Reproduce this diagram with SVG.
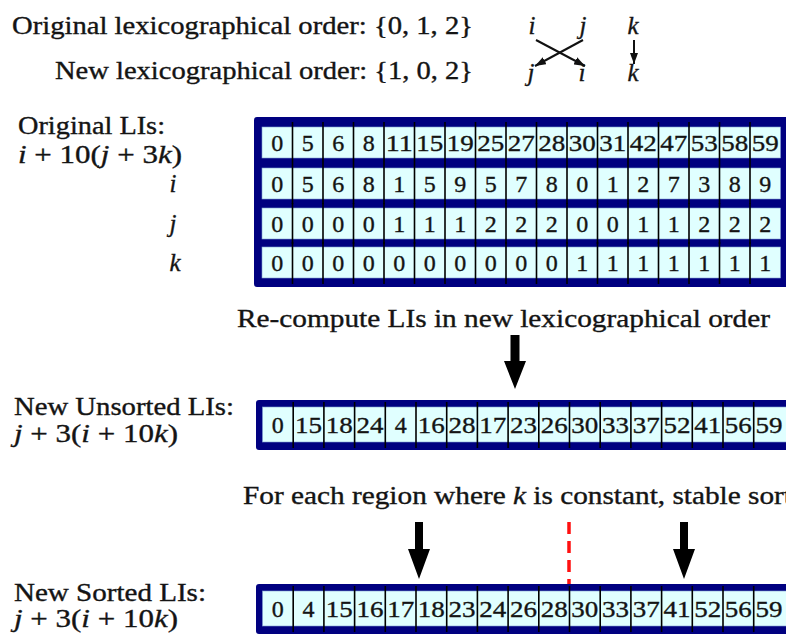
<svg xmlns="http://www.w3.org/2000/svg" width="786" height="634" viewBox="0 0 786 634">
<style>
text{font-family:"Liberation Serif","DejaVu Serif",serif;fill:#141414;stroke:#141414;stroke-width:0.35}
.lb{font-size:25px}
.it{font-style:italic}
.n{font-size:24px;text-anchor:middle}
.n2{font-size:24px;text-anchor:middle}
.outer{fill:#000080}
.cell{fill:#e0ffff;stroke:#7f9fd0;stroke-width:0.6}
.div{stroke:#000;stroke-width:1.6;fill:none}
.thin{stroke:#111;stroke-width:2;fill:none}
.big{fill:#000}
.mid{text-anchor:middle}
</style>
<defs>
<marker id="ah" markerUnits="userSpaceOnUse" markerWidth="11" markerHeight="8" refX="11" refY="4" orient="auto"><path d="M0,0 L11,4 L0,8 z" fill="#111"/></marker>
</defs>

<g id="orders">
<text class="lb" x="12" y="34" textLength="461" lengthAdjust="spacingAndGlyphs">Original lexicographical order: {0, 1, 2}</text>
<text class="lb" x="55" y="79" textLength="418" lengthAdjust="spacingAndGlyphs">New lexicographical order: {1, 0, 2}</text>
</g>
<g id="swap-letters">
<text class="lb it mid" x="532" y="34">i</text>
<text class="lb it mid" x="583" y="34">j</text>
<text class="lb it mid" x="633" y="34">k</text>
<text class="lb it mid" x="531" y="81">j</text>
<text class="lb it mid" x="582" y="81">i</text>
<text class="lb it mid" x="633" y="81">k</text>
</g>

<g id="label-original">
<text class="lb" x="18" y="134" textLength="147" lengthAdjust="spacingAndGlyphs">Original LIs:</text>
<text class="lb" x="18" y="163" textLength="164" lengthAdjust="spacingAndGlyphs"><tspan class="it">i</tspan> + 10(<tspan class="it">j</tspan> + 3<tspan class="it">k</tspan>)</text>
<text class="lb it mid" x="173" y="192">i</text>
<text class="lb it mid" x="173" y="232">j</text>
<text class="lb it mid" x="175" y="271">k</text>
</g>

<g id="table-original">
<rect class="outer" x="254" y="117" width="540" height="170" rx="3"/>
<rect class="cell" x="262" y="127" width="518.5" height="31"/>
<rect class="cell" x="262" y="168" width="518.5" height="31"/>
<rect class="cell" x="262" y="208" width="518.5" height="31"/>
<rect class="cell" x="262" y="247" width="518.5" height="31"/>
<path class="div" d="M292.5,122v41M323,122v41M353.5,122v41M384,122v41M414.5,122v41M445,122v41M475.5,122v41M506,122v41M536.5,122v41M567,122v41M597.5,122v41M628,122v41M658.5,122v41M689,122v41M719.5,122v41M750,122v41"/>
<path class="div" d="M292.5,163v41M323,163v41M353.5,163v41M384,163v41M414.5,163v41M445,163v41M475.5,163v41M506,163v41M536.5,163v41M567,163v41M597.5,163v41M628,163v41M658.5,163v41M689,163v41M719.5,163v41M750,163v41"/>
<path class="div" d="M292.5,203v41M323,203v41M353.5,203v41M384,203v41M414.5,203v41M445,203v41M475.5,203v41M506,203v41M536.5,203v41M567,203v41M597.5,203v41M628,203v41M658.5,203v41M689,203v41M719.5,203v41M750,203v41"/>
<path class="div" d="M292.5,242v42M323,242v42M353.5,242v42M384,242v42M414.5,242v42M445,242v42M475.5,242v42M506,242v42M536.5,242v42M567,242v42M597.5,242v42M628,242v42M658.5,242v42M689,242v42M719.5,242v42M750,242v42"/>
<g class="row">
<text class="n" x="277.25" y="151">0</text><text class="n" x="307.75" y="151">5</text><text class="n" x="338.25" y="151">6</text><text class="n" x="368.75" y="151">8</text>
<text class="n2" x="399.25" y="151" textLength="27" lengthAdjust="spacingAndGlyphs">11</text><text class="n2" x="429.75" y="151" textLength="27" lengthAdjust="spacingAndGlyphs">15</text><text class="n2" x="460.25" y="151" textLength="27" lengthAdjust="spacingAndGlyphs">19</text><text class="n2" x="490.75" y="151" textLength="27" lengthAdjust="spacingAndGlyphs">25</text>
<text class="n2" x="521.25" y="151" textLength="27" lengthAdjust="spacingAndGlyphs">27</text><text class="n2" x="551.75" y="151" textLength="27" lengthAdjust="spacingAndGlyphs">28</text><text class="n2" x="582.25" y="151" textLength="27" lengthAdjust="spacingAndGlyphs">30</text><text class="n2" x="612.75" y="151" textLength="27" lengthAdjust="spacingAndGlyphs">31</text>
<text class="n2" x="643.25" y="151" textLength="27" lengthAdjust="spacingAndGlyphs">42</text><text class="n2" x="673.75" y="151" textLength="27" lengthAdjust="spacingAndGlyphs">47</text><text class="n2" x="704.25" y="151" textLength="27" lengthAdjust="spacingAndGlyphs">53</text><text class="n2" x="734.75" y="151" textLength="27" lengthAdjust="spacingAndGlyphs">58</text>
<text class="n2" x="765.25" y="151" textLength="27" lengthAdjust="spacingAndGlyphs">59</text>
</g>
<g class="row">
<text class="n" x="277.25" y="192">0</text><text class="n" x="307.75" y="192">5</text><text class="n" x="338.25" y="192">6</text><text class="n" x="368.75" y="192">8</text>
<text class="n" x="399.25" y="192">1</text><text class="n" x="429.75" y="192">5</text><text class="n" x="460.25" y="192">9</text><text class="n" x="490.75" y="192">5</text>
<text class="n" x="521.25" y="192">7</text><text class="n" x="551.75" y="192">8</text><text class="n" x="582.25" y="192">0</text><text class="n" x="612.75" y="192">1</text>
<text class="n" x="643.25" y="192">2</text><text class="n" x="673.75" y="192">7</text><text class="n" x="704.25" y="192">3</text><text class="n" x="734.75" y="192">8</text>
<text class="n" x="765.25" y="192">9</text>
</g>
<g class="row">
<text class="n" x="277.25" y="232">0</text><text class="n" x="307.75" y="232">0</text><text class="n" x="338.25" y="232">0</text><text class="n" x="368.75" y="232">0</text>
<text class="n" x="399.25" y="232">1</text><text class="n" x="429.75" y="232">1</text><text class="n" x="460.25" y="232">1</text><text class="n" x="490.75" y="232">2</text>
<text class="n" x="521.25" y="232">2</text><text class="n" x="551.75" y="232">2</text><text class="n" x="582.25" y="232">0</text><text class="n" x="612.75" y="232">0</text>
<text class="n" x="643.25" y="232">1</text><text class="n" x="673.75" y="232">1</text><text class="n" x="704.25" y="232">2</text><text class="n" x="734.75" y="232">2</text>
<text class="n" x="765.25" y="232">2</text>
</g>
<g class="row">
<text class="n" x="277.25" y="271">0</text><text class="n" x="307.75" y="271">0</text><text class="n" x="338.25" y="271">0</text><text class="n" x="368.75" y="271">0</text>
<text class="n" x="399.25" y="271">0</text><text class="n" x="429.75" y="271">0</text><text class="n" x="460.25" y="271">0</text><text class="n" x="490.75" y="271">0</text>
<text class="n" x="521.25" y="271">0</text><text class="n" x="551.75" y="271">0</text><text class="n" x="582.25" y="271">1</text><text class="n" x="612.75" y="271">1</text>
<text class="n" x="643.25" y="271">1</text><text class="n" x="673.75" y="271">1</text><text class="n" x="704.25" y="271">1</text><text class="n" x="734.75" y="271">1</text>
<text class="n" x="765.25" y="271">1</text>
</g>
</g>

<g id="recompute-caption">
<text class="lb" x="237" y="327" textLength="533" lengthAdjust="spacingAndGlyphs">Re-compute LIs in new lexicographical order</text>
</g>

<g id="label-unsorted">
<text class="lb" x="14" y="415" textLength="220" lengthAdjust="spacingAndGlyphs">New Unsorted LIs:</text>
<text class="lb" x="14" y="442" textLength="164" lengthAdjust="spacingAndGlyphs"><tspan class="it">j</tspan> + 3(<tspan class="it">i</tspan> + 10<tspan class="it">k</tspan>)</text>
</g>

<g id="table-unsorted">
<rect class="outer" x="256" y="400" width="540" height="50" rx="3"/>
<rect class="cell" x="262.5" y="407" width="530" height="35"/>
<path class="div" d="M293.2,402v46M323.9,402v46M354.6,402v46M385.3,402v46M416,402v46M446.7,402v46M477.4,402v46M508.1,402v46M538.8,402v46M569.5,402v46M600.2,402v46M630.9,402v46M661.6,402v46M692.3,402v46M723,402v46M753.7,402v46"/>
<text class="n" x="277.85" y="433">0</text>
<text class="n2" x="308.55" y="433" textLength="27" lengthAdjust="spacingAndGlyphs">15</text>
<text class="n2" x="339.25" y="433" textLength="27" lengthAdjust="spacingAndGlyphs">18</text>
<text class="n2" x="369.95" y="433" textLength="27" lengthAdjust="spacingAndGlyphs">24</text>
<text class="n" x="400.65" y="433">4</text>
<text class="n2" x="431.35" y="433" textLength="27" lengthAdjust="spacingAndGlyphs">16</text>
<text class="n2" x="462.05" y="433" textLength="27" lengthAdjust="spacingAndGlyphs">28</text>
<text class="n2" x="492.75" y="433" textLength="27" lengthAdjust="spacingAndGlyphs">17</text>
<text class="n2" x="523.45" y="433" textLength="27" lengthAdjust="spacingAndGlyphs">23</text>
<text class="n2" x="554.15" y="433" textLength="27" lengthAdjust="spacingAndGlyphs">26</text>
<text class="n2" x="584.85" y="433" textLength="27" lengthAdjust="spacingAndGlyphs">30</text>
<text class="n2" x="615.55" y="433" textLength="27" lengthAdjust="spacingAndGlyphs">33</text>
<text class="n2" x="646.25" y="433" textLength="27" lengthAdjust="spacingAndGlyphs">37</text>
<text class="n2" x="676.95" y="433" textLength="27" lengthAdjust="spacingAndGlyphs">52</text>
<text class="n2" x="707.65" y="433" textLength="27" lengthAdjust="spacingAndGlyphs">41</text>
<text class="n2" x="738.35" y="433" textLength="27" lengthAdjust="spacingAndGlyphs">56</text>
<text class="n2" x="769.05" y="433" textLength="27" lengthAdjust="spacingAndGlyphs">59</text>
</g>

<g id="sort-caption">
<text class="lb" x="243" y="504" textLength="549" lengthAdjust="spacingAndGlyphs">For each region where <tspan class="it">k</tspan> is constant, stable sort</text>
</g>

<g id="label-sorted">
<text class="lb" x="14" y="601" textLength="192" lengthAdjust="spacingAndGlyphs">New Sorted LIs:</text>
<text class="lb" x="14" y="627" textLength="164" lengthAdjust="spacingAndGlyphs"><tspan class="it">j</tspan> + 3(<tspan class="it">i</tspan> + 10<tspan class="it">k</tspan>)</text>
</g>

<g id="table-sorted">
<rect class="outer" x="256" y="584" width="540" height="50" rx="3"/>
<rect class="cell" x="262.5" y="591" width="530" height="35"/>
<path class="div" d="M293.2,586v46M323.9,586v46M354.6,586v46M385.3,586v46M416,586v46M446.7,586v46M477.4,586v46M508.1,586v46M538.8,586v46M569.5,586v46M600.2,586v46M630.9,586v46M661.6,586v46M692.3,586v46M723,586v46M753.7,586v46"/>
<text class="n" x="277.85" y="617">0</text>
<text class="n" x="308.55" y="617">4</text>
<text class="n2" x="339.25" y="617" textLength="27" lengthAdjust="spacingAndGlyphs">15</text>
<text class="n2" x="369.95" y="617" textLength="27" lengthAdjust="spacingAndGlyphs">16</text>
<text class="n2" x="400.65" y="617" textLength="27" lengthAdjust="spacingAndGlyphs">17</text>
<text class="n2" x="431.35" y="617" textLength="27" lengthAdjust="spacingAndGlyphs">18</text>
<text class="n2" x="462.05" y="617" textLength="27" lengthAdjust="spacingAndGlyphs">23</text>
<text class="n2" x="492.75" y="617" textLength="27" lengthAdjust="spacingAndGlyphs">24</text>
<text class="n2" x="523.45" y="617" textLength="27" lengthAdjust="spacingAndGlyphs">26</text>
<text class="n2" x="554.15" y="617" textLength="27" lengthAdjust="spacingAndGlyphs">28</text>
<text class="n2" x="584.85" y="617" textLength="27" lengthAdjust="spacingAndGlyphs">30</text>
<text class="n2" x="615.55" y="617" textLength="27" lengthAdjust="spacingAndGlyphs">33</text>
<text class="n2" x="646.25" y="617" textLength="27" lengthAdjust="spacingAndGlyphs">37</text>
<text class="n2" x="676.95" y="617" textLength="27" lengthAdjust="spacingAndGlyphs">41</text>
<text class="n2" x="707.65" y="617" textLength="27" lengthAdjust="spacingAndGlyphs">52</text>
<text class="n2" x="738.35" y="617" textLength="27" lengthAdjust="spacingAndGlyphs">56</text>
<text class="n2" x="769.05" y="617" textLength="27" lengthAdjust="spacingAndGlyphs">59</text>
</g>

<g id="connectors">
<line class="thin" x1="536" y1="40" x2="585" y2="66" marker-end="url(#ah)"/>
<line class="thin" x1="583" y1="40" x2="535" y2="66" marker-end="url(#ah)"/>
<line class="thin" x1="634" y1="40" x2="634" y2="64" marker-end="url(#ah)"/>
<polygon class="big" points="510.5,335 519.5,335 519.5,361 526,361 515,389 504,361 510.5,361"/>
<polygon class="big" points="415,522 423,522 423,549 430,549 419,579 408,549 415,549"/>
<polygon class="big" points="680,522 688,522 688,549 695,549 684,579 673,549 680,549"/>
<line x1="569" y1="522" x2="569" y2="584" stroke="#ff1010" stroke-width="3.5" stroke-dasharray="12 7"/>
</g>
</svg>
